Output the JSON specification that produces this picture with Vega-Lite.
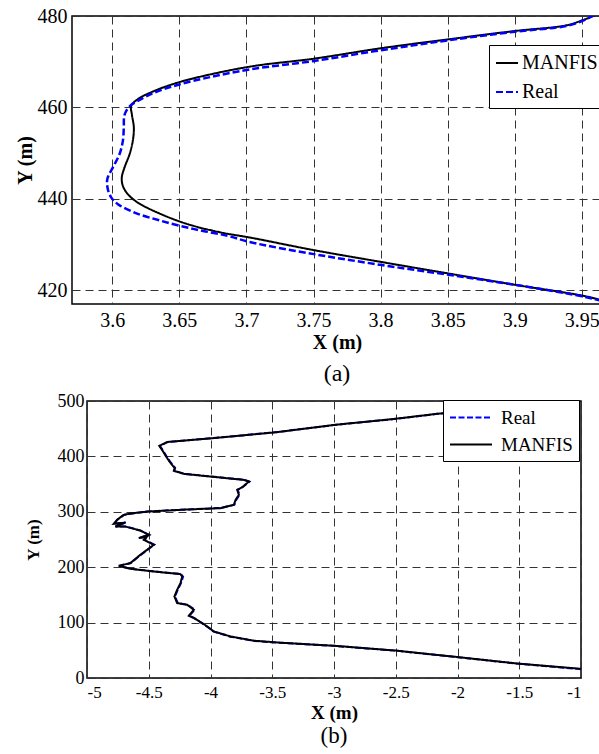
{
  "$schema": "https://vega.github.io/schema/vega-lite/v6.json",
  "padding": {"left": 14, "top": 5, "right": 0, "bottom": 0},
  "autosize": {"type": "pad"},
  "config": {
    "font": "Liberation Serif",
    "view": {"stroke": "black", "strokeWidth": 1.5},
    "axis": {"grid": true, "gridDash": [8, 5], "gridColor": "#333333", "gridWidth": 1, "ticks": false, "domain": false, "labelColor": "black", "titleColor": "black", "labelFont": "Liberation Serif", "titleFont": "Liberation Serif", "titleFontWeight": "bold"},
    "legend": {"labelFont": "Liberation Serif", "labelColor": "black", "symbolType": "stroke", "fillColor": "white", "strokeColor": "black", "title": null},
    "title": {"font": "Liberation Serif", "fontWeight": "normal", "color": "black"}
  },
  "datasets": {
    "a": [
      {"s": "MANFIS", "i": 1, "x": 3.972, "y": 417.3},
      {"s": "MANFIS", "i": 2, "x": 3.9643, "y": 417.86},
      {"s": "MANFIS", "i": 3, "x": 3.9509, "y": 418.8},
      {"s": "MANFIS", "i": 4, "x": 3.9001, "y": 421.2},
      {"s": "MANFIS", "i": 5, "x": 3.8506, "y": 423.67},
      {"s": "MANFIS", "i": 6, "x": 3.7998, "y": 426.23},
      {"s": "MANFIS", "i": 7, "x": 3.7503, "y": 428.78},
      {"s": "MANFIS", "i": 8, "x": 3.7033, "y": 431.5},
      {"s": "MANFIS", "i": 9, "x": 3.681, "y": 432.64},
      {"s": "MANFIS", "i": 10, "x": 3.6562, "y": 434.47},
      {"s": "MANFIS", "i": 11, "x": 3.6364, "y": 436.65},
      {"s": "MANFIS", "i": 12, "x": 3.619, "y": 439.19},
      {"s": "MANFIS", "i": 13, "x": 3.6116, "y": 441.03},
      {"s": "MANFIS", "i": 14, "x": 3.6079, "y": 442.84},
      {"s": "MANFIS", "i": 15, "x": 3.6071, "y": 444.66},
      {"s": "MANFIS", "i": 16, "x": 3.6091, "y": 446.84},
      {"s": "MANFIS", "i": 17, "x": 3.6129, "y": 449.77},
      {"s": "MANFIS", "i": 18, "x": 3.6153, "y": 452.68},
      {"s": "MANFIS", "i": 19, "x": 3.6161, "y": 455.59},
      {"s": "MANFIS", "i": 20, "x": 3.6146, "y": 458.51},
      {"s": "MANFIS", "i": 21, "x": 3.6141, "y": 460.33},
      {"s": "MANFIS", "i": 22, "x": 3.619, "y": 461.79},
      {"s": "MANFIS", "i": 23, "x": 3.6314, "y": 463.61},
      {"s": "MANFIS", "i": 24, "x": 3.6487, "y": 465.42},
      {"s": "MANFIS", "i": 25, "x": 3.6735, "y": 467.25},
      {"s": "MANFIS", "i": 26, "x": 3.7057, "y": 469.07},
      {"s": "MANFIS", "i": 27, "x": 3.7503, "y": 470.67},
      {"s": "MANFIS", "i": 28, "x": 3.7998, "y": 472.93},
      {"s": "MANFIS", "i": 29, "x": 3.8506, "y": 474.9},
      {"s": "MANFIS", "i": 30, "x": 3.9001, "y": 476.72},
      {"s": "MANFIS", "i": 31, "x": 3.9385, "y": 477.96},
      {"s": "MANFIS", "i": 32, "x": 3.9509, "y": 479.13},
      {"s": "MANFIS", "i": 33, "x": 3.9584, "y": 480.0},
      {"s": "MANFIS", "i": 34, "x": 3.963, "y": 480.7},
      {"s": "Real", "i": 1, "x": 3.972, "y": 417.2},
      {"s": "Real", "i": 2, "x": 3.9643, "y": 417.7},
      {"s": "Real", "i": 3, "x": 3.9509, "y": 418.65},
      {"s": "Real", "i": 4, "x": 3.9001, "y": 421.2},
      {"s": "Real", "i": 5, "x": 3.8506, "y": 423.39},
      {"s": "Real", "i": 6, "x": 3.7998, "y": 425.57},
      {"s": "Real", "i": 7, "x": 3.7503, "y": 427.91},
      {"s": "Real", "i": 8, "x": 3.7033, "y": 430.5},
      {"s": "Real", "i": 9, "x": 3.6859, "y": 431.91},
      {"s": "Real", "i": 10, "x": 3.6611, "y": 433.38},
      {"s": "Real", "i": 11, "x": 3.6364, "y": 435.19},
      {"s": "Real", "i": 12, "x": 3.6166, "y": 437.0},
      {"s": "Real", "i": 13, "x": 3.6042, "y": 438.84},
      {"s": "Real", "i": 14, "x": 3.5993, "y": 440.28},
      {"s": "Real", "i": 15, "x": 3.5967, "y": 442.12},
      {"s": "Real", "i": 16, "x": 3.5963, "y": 444.3},
      {"s": "Real", "i": 17, "x": 3.6004, "y": 446.84},
      {"s": "Real", "i": 18, "x": 3.6054, "y": 449.77},
      {"s": "Real", "i": 19, "x": 3.6079, "y": 452.68},
      {"s": "Real", "i": 20, "x": 3.6086, "y": 455.59},
      {"s": "Real", "i": 21, "x": 3.6088, "y": 457.8},
      {"s": "Real", "i": 22, "x": 3.61, "y": 459.0},
      {"s": "Real", "i": 23, "x": 3.6135, "y": 460.4},
      {"s": "Real", "i": 24, "x": 3.619, "y": 461.42},
      {"s": "Real", "i": 25, "x": 3.6314, "y": 463.24},
      {"s": "Real", "i": 26, "x": 3.6487, "y": 464.92},
      {"s": "Real", "i": 27, "x": 3.6735, "y": 466.67},
      {"s": "Real", "i": 28, "x": 3.7033, "y": 468.35},
      {"s": "Real", "i": 29, "x": 3.7503, "y": 470.16},
      {"s": "Real", "i": 30, "x": 3.7998, "y": 472.5},
      {"s": "Real", "i": 31, "x": 3.8506, "y": 474.69},
      {"s": "Real", "i": 32, "x": 3.9001, "y": 476.57},
      {"s": "Real", "i": 33, "x": 3.9385, "y": 477.81},
      {"s": "Real", "i": 34, "x": 3.9509, "y": 478.97},
      {"s": "Real", "i": 35, "x": 3.9578, "y": 480.0},
      {"s": "Real", "i": 36, "x": 3.962, "y": 480.7}
    ],
    "b": [
      {"s": "MANFIS", "i": 1, "x": -1.0, "y": 16.5},
      {"s": "MANFIS", "i": 2, "x": -1.5, "y": 25.8},
      {"s": "MANFIS", "i": 3, "x": -2.0, "y": 37.8},
      {"s": "MANFIS", "i": 4, "x": -2.5, "y": 49.5},
      {"s": "MANFIS", "i": 5, "x": -3.0, "y": 58.2},
      {"s": "MANFIS", "i": 6, "x": -3.45, "y": 64.0},
      {"s": "MANFIS", "i": 7, "x": -3.648, "y": 67.3},
      {"s": "MANFIS", "i": 8, "x": -3.838, "y": 75.0},
      {"s": "MANFIS", "i": 9, "x": -3.973, "y": 84.0},
      {"s": "MANFIS", "i": 10, "x": -4.027, "y": 93.1},
      {"s": "MANFIS", "i": 11, "x": -4.068, "y": 99.2},
      {"s": "MANFIS", "i": 12, "x": -4.135, "y": 108.2},
      {"s": "MANFIS", "i": 13, "x": -4.176, "y": 112.3},
      {"s": "MANFIS", "i": 14, "x": -4.135, "y": 123.2},
      {"s": "MANFIS", "i": 15, "x": -4.189, "y": 132.2},
      {"s": "MANFIS", "i": 16, "x": -4.27, "y": 135.2},
      {"s": "MANFIS", "i": 17, "x": -4.292, "y": 147.2},
      {"s": "MANFIS", "i": 18, "x": -4.27, "y": 159.2},
      {"s": "MANFIS", "i": 19, "x": -4.243, "y": 171.3},
      {"s": "MANFIS", "i": 20, "x": -4.229, "y": 183.2},
      {"s": "MANFIS", "i": 21, "x": -4.243, "y": 187.5},
      {"s": "MANFIS", "i": 22, "x": -4.459, "y": 192.2},
      {"s": "MANFIS", "i": 23, "x": -4.649, "y": 197.1},
      {"s": "MANFIS", "i": 24, "x": -4.743, "y": 202.5},
      {"s": "MANFIS", "i": 25, "x": -4.649, "y": 207.4},
      {"s": "MANFIS", "i": 26, "x": -4.568, "y": 222.4},
      {"s": "MANFIS", "i": 27, "x": -4.459, "y": 240.4},
      {"s": "MANFIS", "i": 28, "x": -4.54, "y": 249.4},
      {"s": "MANFIS", "i": 29, "x": -4.513, "y": 255.4},
      {"s": "MANFIS", "i": 30, "x": -4.581, "y": 252.5},
      {"s": "MANFIS", "i": 31, "x": -4.5, "y": 258.4},
      {"s": "MANFIS", "i": 32, "x": -4.568, "y": 266.2},
      {"s": "MANFIS", "i": 33, "x": -4.69, "y": 273.4},
      {"s": "MANFIS", "i": 34, "x": -4.771, "y": 273.4},
      {"s": "MANFIS", "i": 35, "x": -4.69, "y": 280.6},
      {"s": "MANFIS", "i": 36, "x": -4.784, "y": 278.3},
      {"s": "MANFIS", "i": 37, "x": -4.757, "y": 285.5},
      {"s": "MANFIS", "i": 38, "x": -4.703, "y": 294.5},
      {"s": "MANFIS", "i": 39, "x": -4.649, "y": 296.8},
      {"s": "MANFIS", "i": 40, "x": -4.513, "y": 300.4},
      {"s": "MANFIS", "i": 41, "x": -4.2, "y": 304.0},
      {"s": "MANFIS", "i": 42, "x": -3.92, "y": 306.6},
      {"s": "MANFIS", "i": 43, "x": -3.811, "y": 312.5},
      {"s": "MANFIS", "i": 44, "x": -3.797, "y": 321.6},
      {"s": "MANFIS", "i": 45, "x": -3.77, "y": 330.6},
      {"s": "MANFIS", "i": 46, "x": -3.784, "y": 339.6},
      {"s": "MANFIS", "i": 47, "x": -3.743, "y": 344.5},
      {"s": "MANFIS", "i": 48, "x": -3.689, "y": 354.6},
      {"s": "MANFIS", "i": 49, "x": -3.73, "y": 357.6},
      {"s": "MANFIS", "i": 50, "x": -4.0, "y": 363.6},
      {"s": "MANFIS", "i": 51, "x": -4.216, "y": 368.5},
      {"s": "MANFIS", "i": 52, "x": -4.297, "y": 374.0},
      {"s": "MANFIS", "i": 53, "x": -4.29, "y": 379.0},
      {"s": "MANFIS", "i": 54, "x": -4.33, "y": 390.0},
      {"s": "MANFIS", "i": 55, "x": -4.36, "y": 400.0},
      {"s": "MANFIS", "i": 56, "x": -4.39, "y": 411.0},
      {"s": "MANFIS", "i": 57, "x": -4.415, "y": 419.0},
      {"s": "MANFIS", "i": 58, "x": -4.35, "y": 426.0},
      {"s": "MANFIS", "i": 59, "x": -4.0, "y": 432.5},
      {"s": "MANFIS", "i": 60, "x": -3.7, "y": 438.7},
      {"s": "MANFIS", "i": 61, "x": -3.45, "y": 444.0},
      {"s": "MANFIS", "i": 62, "x": -3.0, "y": 456.8},
      {"s": "MANFIS", "i": 63, "x": -2.515, "y": 467.6},
      {"s": "MANFIS", "i": 64, "x": -2.162, "y": 477.0},
      {"s": "MANFIS", "i": 65, "x": -1.6, "y": 486.0},
      {"s": "MANFIS", "i": 66, "x": -1.05, "y": 495.0},
      {"s": "Real", "i": 1, "x": -1.0, "y": 16.0},
      {"s": "Real", "i": 2, "x": -1.5, "y": 25.5},
      {"s": "Real", "i": 3, "x": -2.0, "y": 37.5},
      {"s": "Real", "i": 4, "x": -2.5, "y": 49.3},
      {"s": "Real", "i": 5, "x": -3.0, "y": 58.0},
      {"s": "Real", "i": 6, "x": -3.45, "y": 63.6},
      {"s": "Real", "i": 7, "x": -3.65, "y": 67.0},
      {"s": "Real", "i": 8, "x": -3.84, "y": 74.6},
      {"s": "Real", "i": 9, "x": -3.975, "y": 83.8},
      {"s": "Real", "i": 10, "x": -4.03, "y": 93.0},
      {"s": "Real", "i": 11, "x": -4.07, "y": 99.0},
      {"s": "Real", "i": 12, "x": -4.13, "y": 108.0},
      {"s": "Real", "i": 13, "x": -4.17, "y": 112.5},
      {"s": "Real", "i": 14, "x": -4.128, "y": 123.4},
      {"s": "Real", "i": 15, "x": -4.185, "y": 132.0},
      {"s": "Real", "i": 16, "x": -4.265, "y": 135.4},
      {"s": "Real", "i": 17, "x": -4.288, "y": 147.0},
      {"s": "Real", "i": 18, "x": -4.265, "y": 159.0},
      {"s": "Real", "i": 19, "x": -4.238, "y": 171.5},
      {"s": "Real", "i": 20, "x": -4.222, "y": 183.0},
      {"s": "Real", "i": 21, "x": -4.24, "y": 187.7},
      {"s": "Real", "i": 22, "x": -4.455, "y": 192.4},
      {"s": "Real", "i": 23, "x": -4.645, "y": 197.3},
      {"s": "Real", "i": 24, "x": -4.74, "y": 202.3},
      {"s": "Real", "i": 25, "x": -4.645, "y": 207.6},
      {"s": "Real", "i": 26, "x": -4.562, "y": 222.6},
      {"s": "Real", "i": 27, "x": -4.455, "y": 240.6},
      {"s": "Real", "i": 28, "x": -4.535, "y": 249.6},
      {"s": "Real", "i": 29, "x": -4.51, "y": 255.2},
      {"s": "Real", "i": 30, "x": -4.578, "y": 252.7},
      {"s": "Real", "i": 31, "x": -4.497, "y": 258.6},
      {"s": "Real", "i": 32, "x": -4.565, "y": 266.0},
      {"s": "Real", "i": 33, "x": -4.686, "y": 273.6},
      {"s": "Real", "i": 34, "x": -4.767, "y": 273.2},
      {"s": "Real", "i": 35, "x": -4.686, "y": 280.8},
      {"s": "Real", "i": 36, "x": -4.78, "y": 278.5},
      {"s": "Real", "i": 37, "x": -4.753, "y": 285.7},
      {"s": "Real", "i": 38, "x": -4.7, "y": 294.3},
      {"s": "Real", "i": 39, "x": -4.645, "y": 296.6},
      {"s": "Real", "i": 40, "x": -4.51, "y": 300.6},
      {"s": "Real", "i": 41, "x": -4.2, "y": 304.2},
      {"s": "Real", "i": 42, "x": -3.92, "y": 306.8},
      {"s": "Real", "i": 43, "x": -3.806, "y": 312.7},
      {"s": "Real", "i": 44, "x": -3.792, "y": 321.4},
      {"s": "Real", "i": 45, "x": -3.765, "y": 330.8},
      {"s": "Real", "i": 46, "x": -3.78, "y": 339.4},
      {"s": "Real", "i": 47, "x": -3.738, "y": 344.7},
      {"s": "Real", "i": 48, "x": -3.685, "y": 354.4},
      {"s": "Real", "i": 49, "x": -3.726, "y": 357.8},
      {"s": "Real", "i": 50, "x": -4.0, "y": 363.8},
      {"s": "Real", "i": 51, "x": -4.212, "y": 368.7},
      {"s": "Real", "i": 52, "x": -4.293, "y": 374.2},
      {"s": "Real", "i": 53, "x": -4.286, "y": 379.2},
      {"s": "Real", "i": 54, "x": -4.326, "y": 390.2},
      {"s": "Real", "i": 55, "x": -4.356, "y": 400.2},
      {"s": "Real", "i": 56, "x": -4.386, "y": 411.2},
      {"s": "Real", "i": 57, "x": -4.41, "y": 419.2},
      {"s": "Real", "i": 58, "x": -4.345, "y": 426.2},
      {"s": "Real", "i": 59, "x": -4.0, "y": 432.7},
      {"s": "Real", "i": 60, "x": -3.7, "y": 438.9},
      {"s": "Real", "i": 61, "x": -3.45, "y": 444.2},
      {"s": "Real", "i": 62, "x": -3.0, "y": 456.6},
      {"s": "Real", "i": 63, "x": -2.515, "y": 467.4},
      {"s": "Real", "i": 64, "x": -2.162, "y": 476.8},
      {"s": "Real", "i": 65, "x": -1.6, "y": 485.8},
      {"s": "Real", "i": 66, "x": -1.05, "y": 494.8}
    ]
  },
  "vconcat": [
    {
      "width": 530,
      "height": 288,
      "title": {"text": "(a)", "orient": "bottom", "fontSize": 24, "offset": 10, "anchor": "middle", "font": "Liberation Serif"},
      "data": {"name": "a"},
      "encoding": {
        "x": {"field": "x", "type": "quantitative", "scale": {"domain": [3.57, 3.965], "nice": false, "zero": false},
              "axis": {"title": "X (m)", "values": [3.6, 3.65, 3.7, 3.75, 3.8, 3.85, 3.9, 3.95], "labelExpr": "'' + datum.value", "labelFont": "Liberation Serif", "titleFont": "Liberation Serif", "labelFontSize": 20, "titleFontSize": 20, "labelPadding": 6, "titlePadding": 2}},
        "y": {"field": "y", "type": "quantitative", "scale": {"domain": [417, 480], "nice": false, "zero": false},
              "axis": {"title": "Y (m)", "values": [420, 440, 460, 480], "labelFont": "Liberation Serif", "titleFont": "Liberation Serif", "labelFontSize": 20, "titleFontSize": 20, "labelPadding": 5, "titlePadding": 2}},
        "color": {"field": "s", "type": "nominal", "scale": {"domain": ["MANFIS", "Real"], "range": ["#000000", "#0000ff"]},
                  "legend": {"orient": "none", "legendX": 417, "legendY": 29, "labelFont": "Liberation Serif", "labelFontSize": 20, "symbolSize": 484, "symbolStrokeWidth": 2, "padding": 6, "rowPadding": 7, "labelOffset": 3}},
        "strokeDash": {"field": "s", "type": "nominal", "scale": {"domain": ["MANFIS", "Real"], "range": [[1, 0], [7, 3]]},
                  "legend": {"orient": "none", "legendX": 417, "legendY": 29, "labelFont": "Liberation Serif", "labelFontSize": 20, "symbolSize": 484, "symbolStrokeWidth": 2, "padding": 6, "rowPadding": 7, "labelOffset": 3}},
        "order": {"field": "i", "type": "quantitative"}
      },
      "layer": [
        {"transform": [{"filter": "datum.s === 'MANFIS'"}], "mark": {"type": "line", "strokeWidth": 2, "clip": true, "interpolate": "catmull-rom"}},
        {"transform": [{"filter": "datum.s === 'Real'"}], "mark": {"type": "line", "strokeWidth": 2.5, "clip": true, "interpolate": "catmull-rom"}}
      ]
    },
    {
      "hconcat": [
        {"width": 15, "height": 10, "view": {"stroke": null}, "data": {"values": []}, "mark": "point"},
        {
          "width": 494,
          "height": 277,
          "title": {"text": "(b)", "orient": "bottom", "fontSize": 23, "offset": 3, "anchor": "middle", "font": "Liberation Serif"},
          "data": {"name": "b"},
          "encoding": {
            "x": {"field": "x", "type": "quantitative", "scale": {"domain": [-5, -1], "nice": false, "zero": false},
                  "axis": {"title": "X (m)", "values": [-5, -4.5, -4, -3.5, -3, -2.5, -2, -1.5, -1], "labelExpr": "'' + datum.value", "labelFont": "Liberation Serif", "titleFont": "Liberation Serif", "labelFontSize": 17, "titleFontSize": 19, "labelPadding": 6, "titlePadding": 3}},
            "y": {"field": "y", "type": "quantitative", "scale": {"domain": [0, 500], "nice": false, "zero": false},
                  "axis": {"title": "Y (m)", "values": [0, 100, 200, 300, 400, 500], "labelFont": "Liberation Serif", "titleFont": "Liberation Serif", "labelFontSize": 18, "titleFontSize": 17, "labelPadding": 3, "titlePadding": 15}},
            "color": {"field": "s", "type": "nominal", "scale": {"domain": ["Real", "MANFIS"], "range": ["#0000ff", "#000000"]},
                      "legend": {"orient": "none", "legendX": 371, "legendY": -1, "labelFont": "Liberation Serif", "labelFontSize": 19, "symbolType": "M-1,0H3", "symbolSize": 441, "symbolStrokeWidth": 2, "padding": 6, "rowPadding": 5, "labelOffset": 29}},
            "strokeDash": {"field": "s", "type": "nominal", "scale": {"domain": ["Real", "MANFIS"], "range": [[6, 2.5], [1, 0]]},
                      "legend": {"orient": "none", "legendX": 371, "legendY": -1, "labelFont": "Liberation Serif", "labelFontSize": 19, "symbolType": "M-1,0H3", "symbolSize": 441, "symbolStrokeWidth": 2, "padding": 6, "rowPadding": 5, "labelOffset": 29}},
            "order": {"field": "i", "type": "quantitative"}
          },
          "layer": [
            {"transform": [{"filter": "datum.s === 'Real'"}], "mark": {"type": "line", "strokeWidth": 2, "clip": true}},
            {"transform": [{"filter": "datum.s === 'MANFIS'"}], "mark": {"type": "line", "strokeWidth": 2, "clip": true}}
          ]
        }
      ],
      "spacing": 0,
      "bounds": "flush"
    }
  ],
  "spacing": 4,
  "resolve": {"scale": {"color": "independent", "strokeDash": "independent"}, "legend": {"color": "independent", "strokeDash": "independent"}}
}
